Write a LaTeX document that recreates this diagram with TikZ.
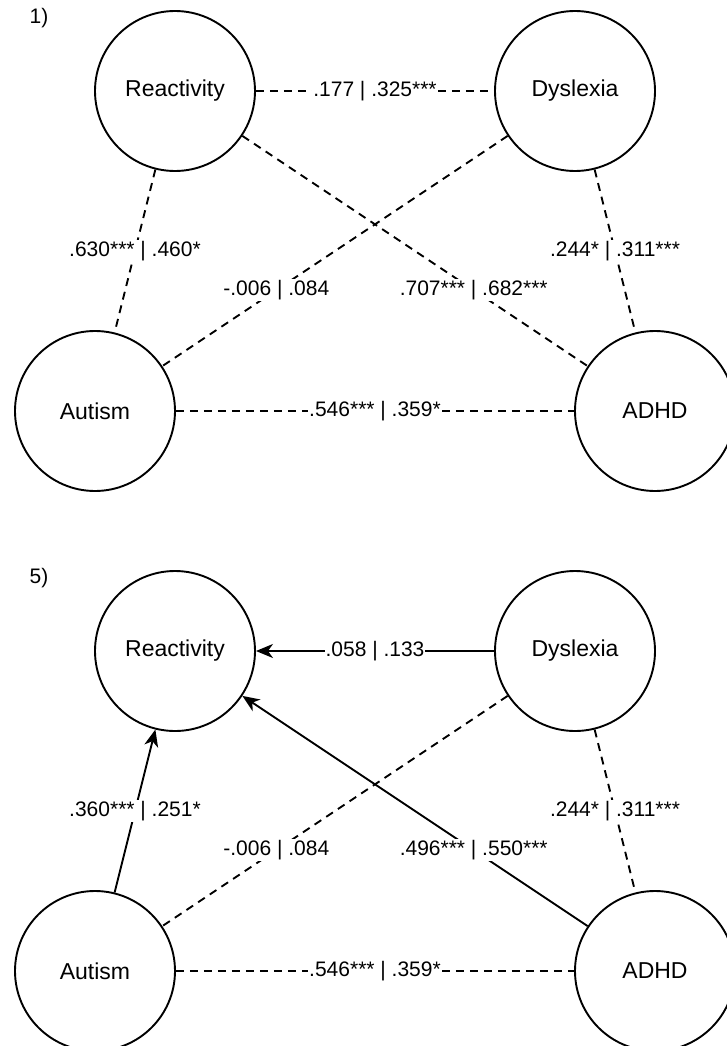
\documentclass[tikz,border=0pt]{standalone}
\usepackage{fontspec}
\setmainfont{Liberation Sans}
\usetikzlibrary{arrows.meta}
\begin{document}
\begin{tikzpicture}[x=1pt,y=-1pt,
  var/.style={draw, circle, fill=white, line width=1.9pt, minimum size=160pt, inner sep=0pt, font=\fontsize{23}{27}\selectfont},
  cov/.style={line width=1.9pt, dash pattern=on 8pt off 6pt},
  reg/.style={line width=1.9pt, -{Stealth[length=17pt,width=14pt,inset=5pt]}},
  lbl/.style={fill=white, inner sep=1pt, font=\fontsize{21}{25}\selectfont},
  tag/.style={font=\fontsize{21}{25}\selectfont}]
 	\useasboundingbox (0,0) rectangle (726,1046);
 	\node[tag] (tag1) at (39,18) {1)};
 	\node[var] (react1) at (175,91) {Reactivity};
 	\node[var] (dys1) at (575,91) {Dyslexia};
 	\node[var] (aut1) at (95,411) {Autism};
 	\node[var] (adhd1) at (655,411) {ADHD};
 	\draw[cov] (react1) -- (dys1) node[lbl, midway] (l11) {.177 | .325***};
 	\draw[cov] (react1) -- (aut1) node[lbl, midway] (l12) {.630*** | .460*};
 	\draw[cov] (dys1) -- (adhd1) node[lbl, midway] (l13) {.244* | .311***};
 	\draw[cov] (dys1) -- (aut1) node[lbl, pos=0.67] (l14) {-.006 | .084};
 	\draw[cov] (react1) -- (adhd1) node[lbl, pos=0.67] (l15) {.707*** | .682***};
 	\draw[cov] (aut1) -- (adhd1) node[lbl, midway] (l16) {.546*** | .359*};
 	\node[tag] (tag5) at (39,578) {5)};
 	\node[var] (react5) at (175,651) {Reactivity};
 	\node[var] (dys5) at (575,651) {Dyslexia};
 	\node[var] (aut5) at (95,971) {Autism};
 	\node[var] (adhd5) at (655,971) {ADHD};
 	\draw[reg] (dys5) -- (react5) node[lbl, midway] (l51) {.058 | .133};
 	\draw[reg] (aut5) -- (react5) node[lbl, midway] (l52) {.360*** | .251*};
 	\draw[cov] (dys5) -- (adhd5) node[lbl, midway] (l53) {.244* | .311***};
 	\draw[cov] (dys5) -- (aut5) node[lbl, pos=0.67] (l54) {-.006 | .084};
 	\draw[reg] (adhd5) -- (react5) node[lbl, pos=0.33] (l55) {.496*** | .550***};
 	\draw[cov] (aut5) -- (adhd5) node[lbl, midway] (l56) {.546*** | .359*};
\end{tikzpicture}
\end{document}
